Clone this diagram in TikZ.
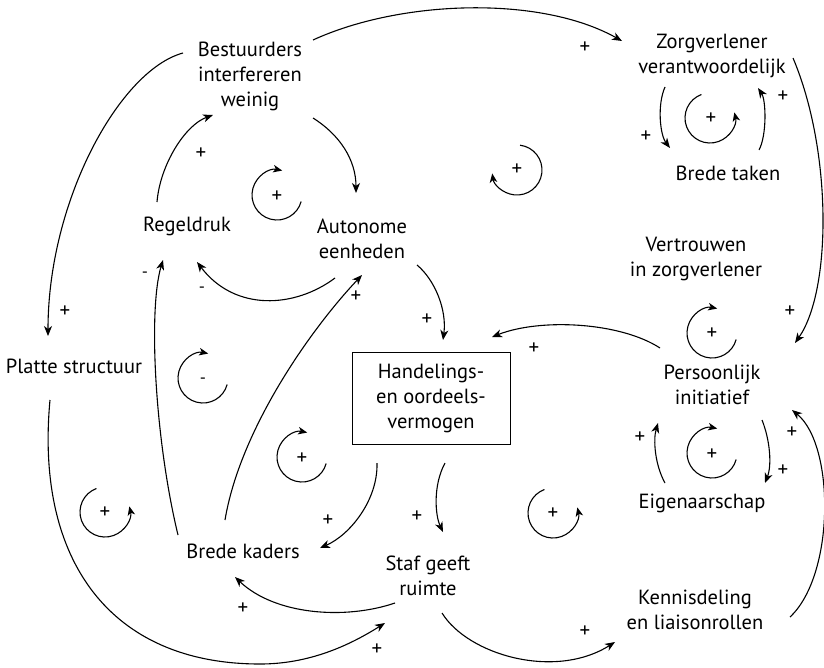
\documentclass[tikz,border=0pt]{standalone}
\usepackage{fontspec}
\setmainfont{PT Sans}
\usetikzlibrary{calc,arrows.meta}
\newcommand{\pl}{{\fontsize{21}{21}\selectfont +}}
\begin{document}
\begin{tikzpicture}[x=1pt,y=-1pt,
  lbl/.style={font=\fontsize{20.5}{25}\selectfont, align=center, inner sep=0pt},
  sgn/.style={font=\fontsize{17}{17}\selectfont, inner sep=0pt},
  link/.style={line width=1.1pt, -{Stealth[length=10pt,width=8pt,inset=3pt]}},
  loopln/.style={line width=1.1pt, -{Stealth[length=9pt,width=7.5pt,inset=2.5pt]}},
  boxed/.style={lbl, draw, line width=1pt, minimum width=158pt, minimum height=92pt}
]
\useasboundingbox (0,0) rectangle (824,667);

% nodes
\node[lbl] (bes) at (250,76) {Bestuurders\\interfereren\\weinig};
\node[lbl] (zorg) at (712,56) {Zorgverlener\\verantwoordelijk};
\node[lbl] (taken) at (728,173) {Brede taken};
\node[lbl] (vert) at (696,259) {Vertrouwen\\in zorgverlener};
\node[lbl] (regel) at (187,226) {Regeldruk};
\node[lbl] (aut) at (362,239) {Autonome\\eenheden};
\node[lbl] (platte) at (74,366) {Platte structuur};
\node[boxed] (hand) at (431,398) {Handelings-\\en oordeels-\\vermogen};
\node[lbl] (kaders) at (243,551) {Brede kaders};
\node[lbl] (staf) at (428,576) {Staf geeft\\ruimte};
\node[lbl] (kenn) at (695,610) {Kennisdeling\\en liaisonrollen};
\node[lbl] (pers) at (712,385) {Persoonlijk\\initiatief};
\node[lbl] (eig) at (702,503) {Eigenaarschap};

% connectors
\draw[link] ($(bes)+(-67,-23)$) .. controls (120,70) and (48,200) .. ($(platte)+(-26,-30)$);
\draw[link] ($(bes)+(63,-36)$) .. controls (400,0) and (540,-5) .. ($(zorg)+(-90,-15)$);
\draw[link] ($(regel)+(-30,-24)$) .. controls (160,165) and (185,125) .. ($(bes)+(-37,39)$);
\draw[link] ($(bes)+(63,42)$) .. controls (340,135) and (356,160) .. ($(aut)+(-6,-46)$);
\draw[link] ($(aut)+(-27,39)$) .. controls (295,308) and (235,312) .. ($(regel)+(10,36)$);
\draw[link] ($(kaders)+(-65,-16)$) .. controls (155,440) and (148,310) .. ($(regel)+(-24,34)$);
\draw[link] ($(kaders)+(-18,-31)$) .. controls (240,430) and (310,330) .. ($(aut)+(0,36)$);
\draw[link] ($(aut)+(55,26)$) .. controls (435,280) and (447,310) .. ($(hand)+(12,-58)$);
\draw[link] ($(pers)+(-52,-37)$) .. controls (620,322) and (540,318) .. ($(hand)+(61,-61)$);
\draw[link] ($(zorg)+(81,2)$) .. controls (832,150) and (832,290) .. ($(pers)+(83,-42)$);
\draw[link] ($(zorg)+(-47,31)$) .. controls (657,105) and (660,135) .. ($(taken)+(-58,-25)$);
\draw[link] ($(taken)+(31,-23)$) .. controls (767,135) and (766,100) .. ($(zorg)+(46,32)$);
\draw[link] ($(eig)+(-37,-20)$) .. controls (655,465) and (653,440) .. ($(pers)+(-54,38)$);
\draw[link] ($(pers)+(50,35)$) .. controls (770,440) and (772,465) .. ($(eig)+(63,-20)$);
\draw[link] ($(kenn)+(95,7)$) .. controls (835,575) and (835,445) .. ($(pers)+(80,25)$);
\draw[link] ($(staf)+(14,37)$) .. controls (468,655) and (555,680) .. ($(kenn)+(-80,32)$);
\draw[link] ($(staf)+(-33,27)$) .. controls (345,620) and (275,615) .. ($(kaders)+(-8,26)$);
\draw[link] ($(platte)+(-24,34)$) .. controls (35,560) and (110,664) .. (260,664)
   .. controls (310,664) and (350,645) .. ($(staf)+(-43,47)$);
\draw[link] ($(hand)+(-54,65)$) .. controls (378,500) and (350,535) .. ($(kaders)+(77,-3)$);
\draw[link] ($(hand)+(14,65)$) .. controls (433,485) and (435,515) .. ($(staf)+(15,-44)$);

% polarity signs
\node[sgn] (s1) at (65,312) {\pl};
\node[sgn] (s2) at (585,48) {\pl};
\node[sgn] (s3) at (201,154) {\pl};
\node[sgn] (s4) at (202,290) {-};
\node[sgn] (s5) at (145,275) {-};
\node[sgn] (s6) at (356,297) {\pl};
\node[sgn] (s7) at (427,320) {\pl};
\node[sgn] (s8) at (534,349) {\pl};
\node[sgn] (s9) at (790,312) {\pl};
\node[sgn] (s10) at (646,137) {\pl};
\node[sgn] (s11) at (783,97) {\pl};
\node[sgn] (s12) at (640,438) {\pl};
\node[sgn] (s13) at (783,471) {\pl};
\node[sgn] (s14) at (792,433) {\pl};
\node[sgn] (s15) at (585,632) {\pl};
\node[sgn] (s16) at (243,609) {\pl};
\node[sgn] (s17) at (377,650) {\pl};
\node[sgn] (s18) at (328,521) {\pl};
\node[sgn] (s19) at (417,517) {\pl};

% loop symbols
\draw[loopln] (277,195) ++(15:25) arc[start angle=15,end angle=282,radius=25];
\draw[loopln] (517,170) ++(-83:25) arc[start angle=-83,end angle=172,radius=25];
\draw[loopln] (712,333) ++(15:25) arc[start angle=15,end angle=282,radius=25];
\draw[loopln] (203,378) ++(15:25) arc[start angle=15,end angle=282,radius=25];
\draw[loopln] (302,457) ++(15:25) arc[start angle=15,end angle=282,radius=25];
\draw[loopln] (105,512) ++(-110:25) arc[start angle=-110,end angle=-373,radius=25];
\draw[loopln] (553,513) ++(-110:25) arc[start angle=-110,end angle=-373,radius=25];
\draw[loopln] (712,453) ++(15:25) arc[start angle=15,end angle=282,radius=25];
\draw[loopln] (710,118) ++(-110:25) arc[start angle=-110,end angle=-373,radius=25];

\node[sgn] (c1) at (277,197) {\pl};
\node[sgn] (c2) at (517,170) {\pl};
\node[sgn] (c3) at (712,334) {\pl};
\node[sgn] (c4) at (203,381) {-};
\node[sgn] (c5) at (302,459) {\pl};
\node[sgn] (c6) at (105,513) {\pl};
\node[sgn] (c7) at (553,514) {\pl};
\node[sgn] (c8) at (712,455) {\pl};
\node[sgn] (c9) at (711,119) {\pl};
\end{tikzpicture}
\end{document}
